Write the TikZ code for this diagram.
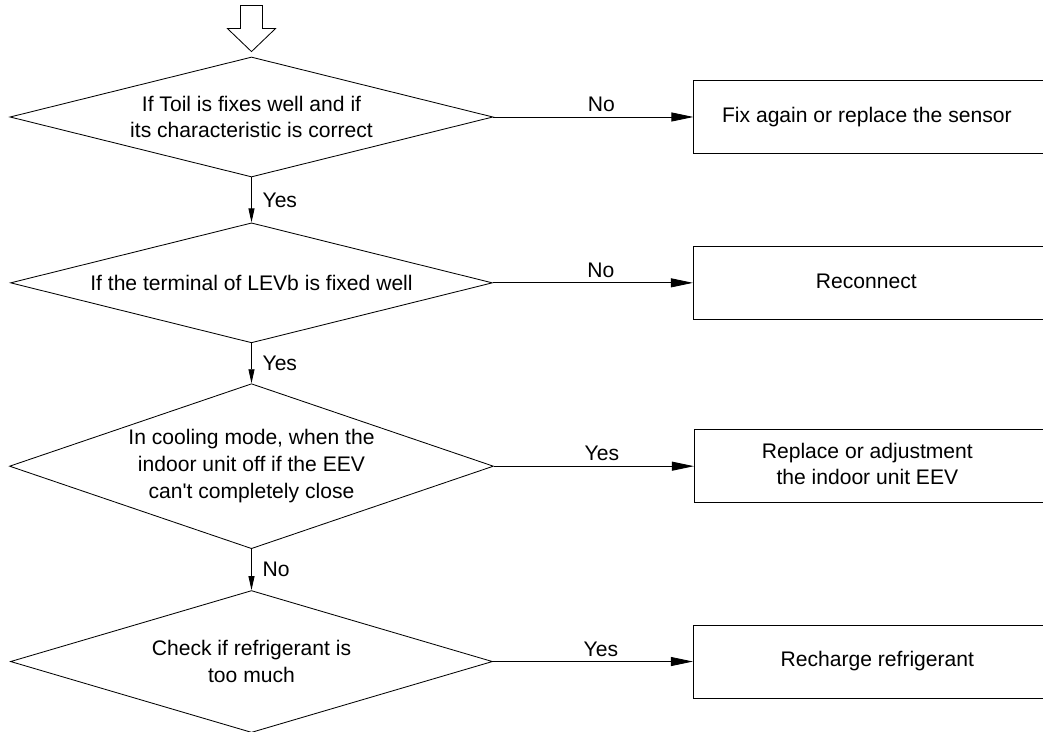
\documentclass[tikz,border=0pt]{standalone}
\usepackage{fontspec}
\setmainfont{Liberation Sans}
\usetikzlibrary{shapes.geometric, arrows.meta, positioning}
\newcommand{\boxtext}[2][0.55cm]{\begin{tabular}{@{}c@{}}#2\end{tabular}\hspace*{#1}}

\begin{document}
\begin{tikzpicture}[node distance=1.05cm and 5cm, line width=0.6pt,
    font=\fontsize{15}{19}\selectfont,
    check/.style={diamond, draw, inner sep=0pt, align=center},
    action/.style={rectangle, draw, minimum width=9.2cm, minimum height=1.825cm, inner sep=0pt},
    hflow/.style={-{Triangle[length=5.5mm, width=2.25mm]}},
    vflow/.style={-{Triangle[length=3.5mm, width=1.5mm]}}]
        \useasboundingbox (-6.2875,-15.35) rectangle (19.7875,2.925);

        \node (toil) [check, aspect=4, minimum width=12.075cm, minimum height=3cm] {If Toil is fixes well and if\\its characteristic is correct};
        \node (levb) [check, below=1.125cm of toil, aspect=4, minimum width=12.05cm, minimum height=3cm] {If the terminal of LEVb is fixed well};
        \node (eev) [check, below=1cm of levb, aspect=2.93, minimum width=12.1cm, minimum height=4.125cm] {In cooling mode, when the\\indoor unit off if the EEV\\can\textquotesingle t completely close};
        \node (refr) [check, below=1.025cm of eev, aspect=3.4, minimum width=12.05cm, minimum height=3.55cm] {Check if refrigerant is\\too much};

        \node (sensor) [action, right=of toil] {\boxtext{Fix again or replace the sensor}};
        \node (reconnect) [action, right=of levb] {\boxtext{Reconnect}};
        \node (adjust) [action, right=of eev] {\boxtext{Replace or adjustment\\the indoor unit EEV}};
        \node (recharge) [action, right=of refr] {\boxtext[0pt]{Recharge refrigerant}};

        % entry arrow
        \draw ([yshift=1.25mm]toil.north) -- ++(-0.6,0.575) -- ++(0.325,0) -- ++(0,0.575) -- ++(0.55,0) -- ++(0,-0.575) -- ++(0.325,0) -- cycle;

        \draw [vflow] (toil) -- node[right=1.5mm] {Yes} (levb);
        \draw [vflow] (levb) -- node[right=1.5mm] {Yes} (eev);
        \draw [vflow] (eev) -- node[right=1.5mm] {No} (refr);

        \draw [hflow] (toil) -- node[above, pos=0.54] {No} (sensor);
        \draw [hflow] (levb) -- node[above, pos=0.54] {No} (reconnect);
        \draw [hflow] (eev) -- node[above, pos=0.54] {Yes} (adjust);
        \draw [hflow] (refr) -- node[above, pos=0.54] {Yes} (recharge);
    \end{tikzpicture}
\end{document}
